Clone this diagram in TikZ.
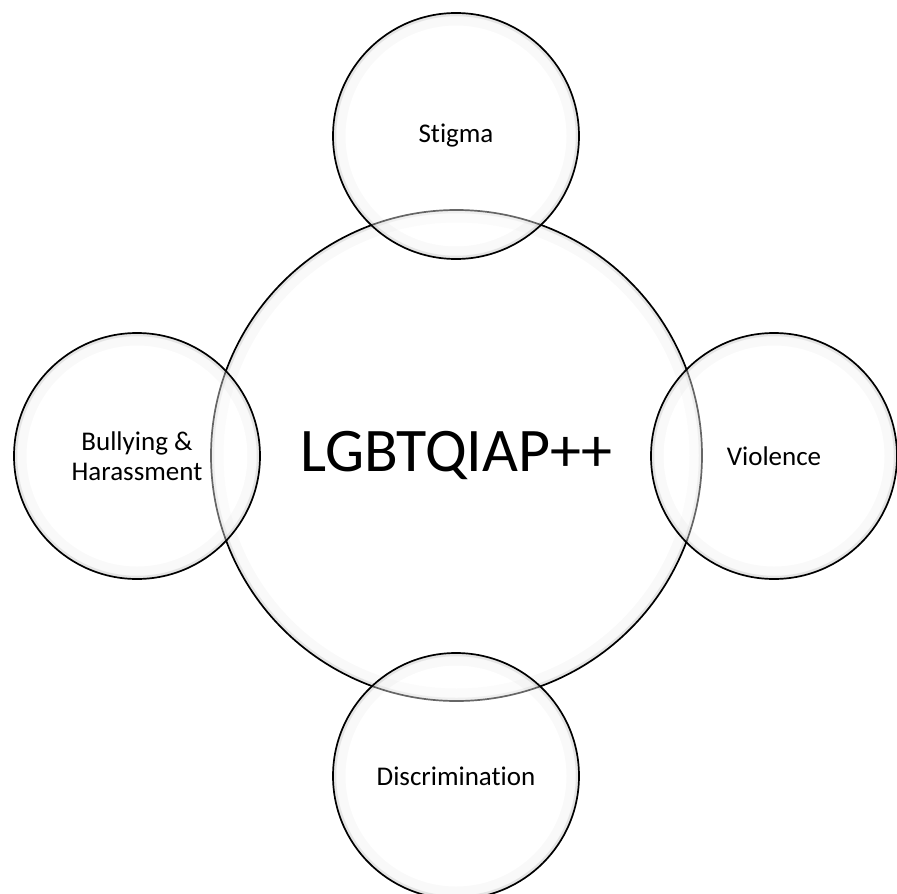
\documentclass[tikz,border=0pt]{standalone}
\usepackage{fontspec}
\setmainfont{Carlito}[Ligatures={NoCommon,NoRare}]
\begin{document}
\begin{tikzpicture}[x=1pt,y=-1pt,
  ring/.style={circle, draw=black, line width=1.7pt, fill=white, fill opacity=0.4, text opacity=1, inner sep=0pt, align=center},
  sat/.style={ring, minimum size=246pt, font=\fontsize{27}{29.5}\selectfont},
  hub/.style={ring, minimum size=491pt, font=\fontsize{62}{70}\selectfont},
  glowwide/.style={draw=black, opacity=0.025, line width=12pt},
  glownarrow/.style={draw=black, opacity=0.08, line width=2.5pt}]
\useasboundingbox (0,0) rectangle (897,894);
\node[hub] (c) at (456.5,455.5) {LGBTQIAP++};
\draw[glowwide] (c.center) circle (239);
\draw[glownarrow] (c.center) circle (243.5);
\foreach \n/\x/\y/\t in {s/456/136/Stigma, b/137/456/{Bullying \&\\Harassment}, v/774/456/Violence, d/456/776/Discrimination}{
  \node[sat] (\n) at (\x,\y) {\t};
  \draw[glowwide] (\n.center) circle (116.5);
  \draw[glownarrow] (\n.center) circle (121);
}
\end{tikzpicture}
\end{document}
